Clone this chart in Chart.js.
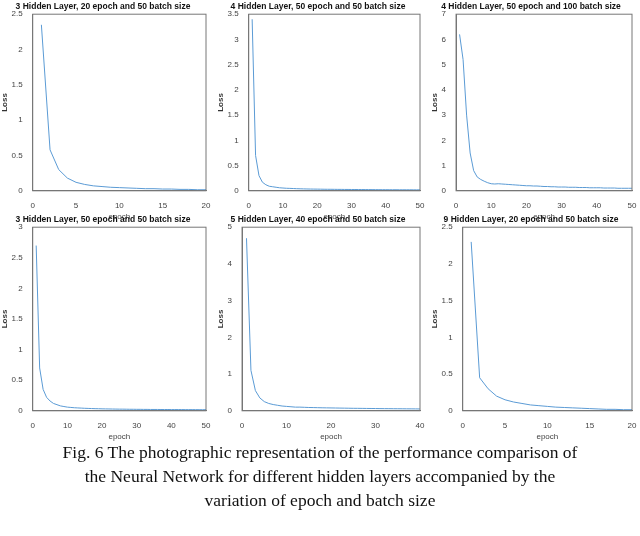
<!DOCTYPE html>
<html><head><meta charset="utf-8">
<script src="https://cdn.jsdelivr.net/npm/chart.js@4"></script>
<style>
body{margin:0;width:640px;height:536px;background:#fff;position:relative;overflow:hidden}
.c{position:absolute}
#cap{position:absolute;left:0;top:440px;width:640px;text-align:center;font-family:"Liberation Serif","DejaVu Serif",serif;font-size:17.5px;line-height:24px;color:#111}
</style></head><body>
<div class="c" style="left:0;top:0"><canvas id="c0" width="214" height="222"></canvas></div>
<div class="c" style="left:216px;top:0"><canvas id="c1" width="212" height="222"></canvas></div>
<div class="c" style="left:430px;top:0"><canvas id="c2" width="210" height="222"></canvas></div>
<div class="c" style="left:0;top:213px"><canvas id="c3" width="214" height="229"></canvas></div>
<div class="c" style="left:216px;top:213px"><canvas id="c4" width="212" height="229"></canvas></div>
<div class="c" style="left:430px;top:213px"><canvas id="c5" width="210" height="229"></canvas></div>
<div id="cap">Fig. 6 The photographic representation of the performance comparison of<br>the Neural Network for different hidden layers accompanied by the<br>variation of epoch and batch size</div>
<script>
const titles=["3 Hidden Layer, 20 epoch and 50 batch size","4 Hidden Layer, 50 epoch and 50 batch size","4 Hidden Layer, 50 epoch and 100 batch size","3 Hidden Layer, 50 epoch and 50 batch size","5 Hidden Layer, 40 epoch and 50 batch size","9 Hidden Layer, 20 epoch and 50 batch size"];
const loss3h20=[2.35,0.58,0.3,0.18,0.12,0.09,0.07,0.06,0.05,0.045,0.04,0.035,0.03,0.03,0.025,0.025,0.02,0.02,0.015,0.015];
const loss4h50=[3.4,0.7,0.3,0.17,0.12,0.09,0.08,0.07,0.06,0.055,0.05,0.048,0.045,0.042,0.04,0.038,0.036,0.035,0.034,0.033,0.032,0.031,0.03,0.03,0.029,0.028,0.028,0.027,0.027,0.026,0.026,0.025,0.025,0.024,0.024,0.023,0.023,0.022,0.022,0.022,0.021,0.021,0.021,0.02,0.02,0.02,0.02,0.019,0.019,0.019];
const loss4h50b100=[6.2,5.2,3.0,1.5,0.8,0.55,0.45,0.38,0.32,0.28,0.27,0.28,0.27,0.26,0.25,0.24,0.23,0.22,0.21,0.2,0.2,0.19,0.19,0.18,0.17,0.17,0.16,0.16,0.15,0.15,0.15,0.14,0.14,0.14,0.13,0.13,0.13,0.12,0.12,0.12,0.12,0.11,0.11,0.11,0.11,0.1,0.1,0.1,0.1,0.1];
const loss3h50=[2.7,0.7,0.35,0.22,0.16,0.12,0.1,0.08,0.07,0.06,0.055,0.05,0.047,0.044,0.041,0.039,0.037,0.035,0.034,0.032,0.031,0.03,0.029,0.028,0.027,0.027,0.026,0.025,0.025,0.024,0.024,0.023,0.023,0.022,0.022,0.022,0.021,0.021,0.021,0.02,0.02,0.02,0.02,0.019,0.019,0.019,0.019,0.018,0.018,0.018];
const loss5h40=[4.7,1.1,0.55,0.35,0.25,0.2,0.17,0.15,0.13,0.12,0.11,0.1,0.1,0.095,0.09,0.088,0.085,0.082,0.08,0.078,0.076,0.074,0.072,0.07,0.068,0.067,0.066,0.064,0.063,0.062,0.06,0.059,0.058,0.057,0.056,0.055,0.054,0.053,0.052,0.05];
const loss9h20=[2.3,0.45,0.3,0.2,0.15,0.12,0.1,0.08,0.07,0.06,0.05,0.045,0.04,0.035,0.03,0.025,0.02,0.02,0.015,0.015];
const series=[loss3h20,loss4h50,loss4h50b100,loss3h50,loss5h40,loss9h20];
const xMax=[20,50,50,50,40,20];
const xStep=[5,10,10,10,10,5];
const yMax=[2.5,3.5,7,3,5,2.5];
const yStep=[0.5,0.5,1,0.5,1,0.5];
const box={id:'box',afterDraw(ch){const a=ch.chartArea,c=ch.ctx;c.save();c.strokeStyle='#777';c.lineWidth=1;c.strokeRect(a.left,a.top,a.right-a.left,a.bottom-a.top);c.restore();}};
const tf={family:"Liberation Sans, Arial, sans-serif",size:8};
series.forEach((d,i)=>{
 new Chart(document.getElementById('c'+i),{type:'line',
  data:{datasets:[{data:d.map((v,k)=>({x:k+1,y:v})),borderColor:'#5b9bd5',borderWidth:1,pointRadius:0,tension:0}]},
  options:{responsive:false,animation:false,
   layout:{padding:{right:8,left:0,top:0}},
   plugins:{legend:{display:false},title:{display:true,text:titles[i],color:'#111',font:{family:"Liberation Sans, Arial, sans-serif",size:8.5,weight:'bold'},padding:{top:2,bottom:2}}},
   scales:{
    x:{type:'linear',min:0,max:xMax[i],ticks:{stepSize:xStep[i],color:'#444',font:tf,maxRotation:0,padding:2,callback:v=>String(Number(v))},grid:{display:false},border:{color:'#777'},title:{display:true,text:'epoch',color:'#444',font:tf,padding:0}},
    y:{min:0,max:yMax[i],ticks:{stepSize:yStep[i],color:'#444',font:tf,padding:2,callback:v=>String(Number(v.toFixed(2)))},grid:{display:false},border:{color:'#777'},title:{display:true,text:'Loss',color:'#333',font:{...tf,weight:'bold'},padding:0}}
   }},plugins:[box]});
});
</script></body></html>
